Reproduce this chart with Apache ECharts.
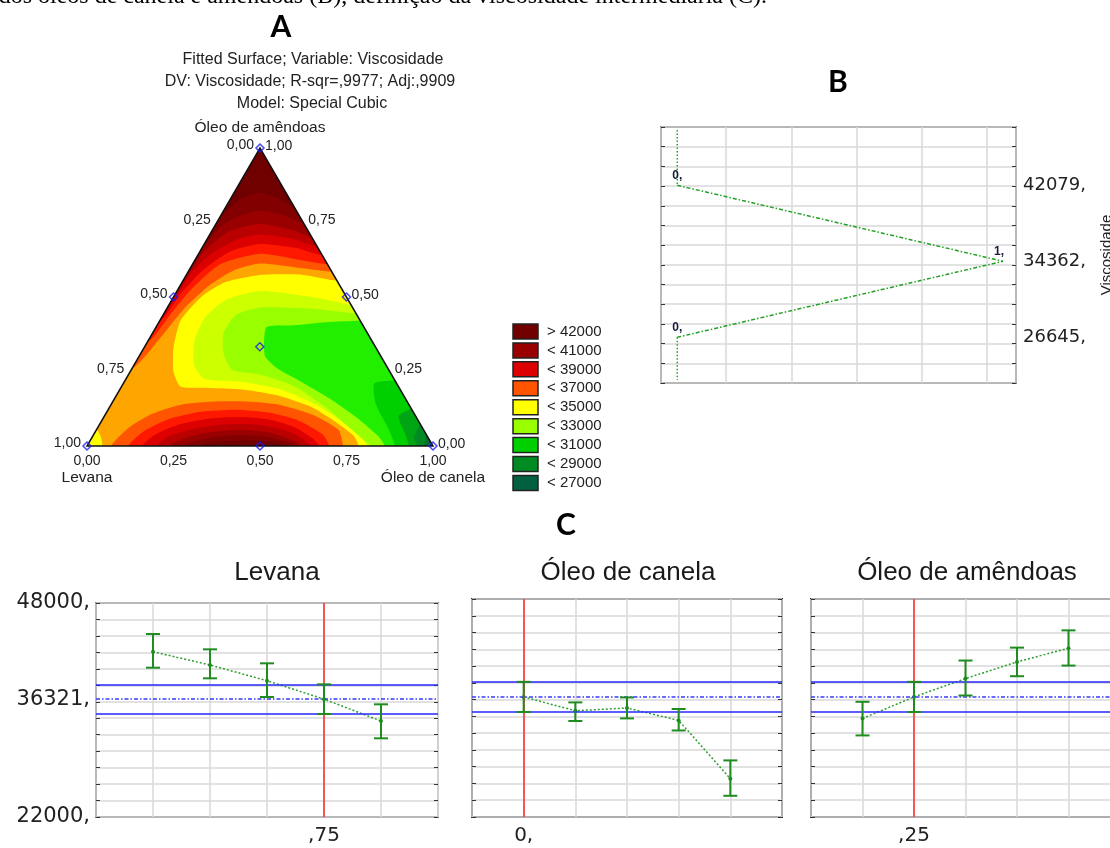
<!DOCTYPE html>
<html>
<head>
<meta charset="utf-8">
<script src="https://cdn.jsdelivr.net/npm/echarts@6/dist/echarts.min.js"></script>
<style>
  html, body { margin: 0; padding: 0; background: #fff; }
  #chart { width: 1110px; height: 848px; }
</style>
</head>
<body>
<div id="chart"></div>
<script>
// ---- A: ternary fitted surface, contour lines ----
// every point is [canela, amendoas] (levana = 1 - canela - amendoas)
const bandLows = [25000, 26000, 27000, 28000, 29000, 30000, 31000, 32000, 33000,
  34000, 35000, 36000, 37000, 38000, 39000, 40000, 41000, 42000];
const bandColors = ['#00553a', '#006040', '#007030', '#008a22', '#00a514', '#00d000',
  '#22ee00', '#99ff00', '#ccff00', '#ffff00', '#ffa500', '#ff5500', '#ff1800',
  '#dd0000', '#bb0000', '#990000', '#820000', '#700000'];

// upper region, from the levana/amendoas edge to the canela/amendoas edge
const topLevels = [36000, 37000, 38000, 39000, 40000, 41000, 42000];
const topLines = [
  [[0, 0.26], [0.03, 0.36], [0.05, 0.46], [0.085, 0.54], [0.13, 0.59], [0.194, 0.612], [0.30, 0.60], [0.415, 0.585]],
  [[0, 0.35], [0.02, 0.44], [0.04, 0.53], [0.08, 0.61], [0.1775, 0.645], [0.30, 0.625], [0.39, 0.61]],
  [[0, 0.42], [0.015, 0.51], [0.04, 0.59], [0.09, 0.655], [0.161, 0.678], [0.27, 0.665], [0.36, 0.64]],
  [[0, 0.50], [0.01, 0.58], [0.04, 0.65], [0.09, 0.695], [0.145, 0.71], [0.25, 0.695], [0.332, 0.668]],
  [[0, 0.58], [0.01, 0.65], [0.05, 0.72], [0.1275, 0.745], [0.23, 0.725], [0.30, 0.70]],
  [[0, 0.68], [0.02, 0.74], [0.06, 0.775], [0.105, 0.79], [0.18, 0.775], [0.255, 0.745]],
  [[0, 0.78], [0.03, 0.83], [0.075, 0.85], [0.13, 0.835], [0.20, 0.80]]
];
// dome on the levana/canela edge
const domeLevels = [36000, 37000, 38000, 39000, 40000, 41000, 42000];
const domeLines = [
  [[0.07, 0], [0.092, 0.065], [0.137, 0.11], [0.20, 0.138], [0.29, 0.149], [0.3875, 0.149],
    [0.489, 0.138], [0.602, 0.104], [0.70, 0.054], [0.74, 0]],
  [[0.12, 0], [0.14, 0.05], [0.19, 0.09], [0.27, 0.115], [0.37, 0.122], [0.47, 0.112], [0.57, 0.085], [0.66, 0.04], [0.70, 0]],
  [[0.16, 0], [0.18, 0.04], [0.23, 0.072], [0.31, 0.092], [0.40, 0.097], [0.49, 0.087], [0.57, 0.062], [0.64, 0.025], [0.67, 0]],
  [[0.20, 0], [0.22, 0.032], [0.28, 0.058], [0.36, 0.072], [0.44, 0.073], [0.52, 0.06], [0.59, 0.035], [0.645, 0]],
  [[0.24, 0], [0.27, 0.028], [0.34, 0.048], [0.42, 0.054], [0.50, 0.046], [0.57, 0.025], [0.62, 0]],
  [[0.28, 0], [0.32, 0.022], [0.40, 0.036], [0.48, 0.034], [0.55, 0.02], [0.60, 0]],
  [[0.33, 0], [0.38, 0.014], [0.45, 0.02], [0.52, 0.014], [0.575, 0]]
];
// low basin, from the canela/amendoas edge to the levana/canela edge
const basinLevels = [35000, 34000, 33000, 32000, 31000, 30000, 29000, 28000, 27000];
const basinLines = [
  [[0.445, 0.555], [0.3325, 0.575], [0.213, 0.574], [0.125, 0.55], [0.08, 0.50], [0.06, 0.42], [0.085, 0.33],
    [0.125, 0.25], [0.17, 0.20], [0.2525, 0.195], [0.355, 0.19], [0.465, 0.17], [0.585, 0.13], [0.68, 0.08],
    [0.7525, 0.035], [0.785, 0]],
  [[0.525, 0.475], [0.40, 0.50], [0.24, 0.52], [0.155, 0.49], [0.125, 0.43], [0.135, 0.35], [0.175, 0.27],
    [0.2275, 0.225], [0.3425, 0.215], [0.465, 0.19], [0.59, 0.14], [0.70, 0.08], [0.775, 0.03], [0.81, 0]],
  [[0.555, 0.445], [0.43, 0.46], [0.2675, 0.465], [0.21, 0.44], [0.205, 0.38], [0.24, 0.31], [0.2925, 0.255],
    [0.38, 0.24], [0.50, 0.20], [0.625, 0.13], [0.73, 0.06], [0.79, 0.02], [0.82, 0]],
  [[0.58, 0.42], [0.4825, 0.415], [0.3975, 0.405], [0.32, 0.40], [0.332, 0.36], [0.365, 0.30], [0.42, 0.26],
    [0.5125, 0.215], [0.62, 0.16], [0.7325, 0.095], [0.8225, 0.035], [0.86, 0]],
  [[0.78, 0.22], [0.725, 0.21], [0.765, 0.14], [0.84, 0.06], [0.89, 0]],
  [[0.875, 0.125], [0.85, 0.10], [0.90, 0.04], [0.93, 0]],
  [[0.93, 0.07], [0.93, 0.03], [0.955, 0]],
  [[0.965, 0.035], [0.975, 0]],
  [[0.985, 0.015], [0.99, 0]]
];
// small low patch at the levana corner
const cornerLevels = [35000];
const cornerLines = [[[0.045, 0], [0.025, 0.03], [0, 0.055]]];

const designPoints = [[0, 0], [1, 0], [0, 1], [0.5, 0], [0, 0.5], [0.5, 0.5], [0.333, 0.333]];
const ternaryTicks = [0, 0.25, 0.5, 0.75, 1];

const legendLabels = ['> 42000', '< 41000', '< 39000', '< 37000', '< 35000', '< 33000', '< 31000', '< 29000', '< 27000'];
const legendBands = [42000, 40000, 38000, 36000, 34000, 32000, 30000, 28000, 26000];

// ---- B: trace of the response ----
const bVertX = [0, 0, '-', 0, 0];
const bVertY = [47700, 42079, '-', 26645, 22300];
const bDiagX = [0, 1, 0];
const bDiagY = [42079, 34362, 26645];
const bDiagLabels = ['0,', '1,', '0,'];
const bAxisLabels = [26645, 34362, 42079];

// ---- C: prediction profiles ----
const levanaX = [0.6, 0.65, 0.7, 0.75, 0.8];
const levanaMean = [42080, 40470, 38560, 36321, 33660];
const levanaLow = [40140, 38850, 36580, 34520, 31560];
const levanaHigh = [44230, 42370, 40670, 38120, 35690];

const canelaX = [0, 0.05, 0.1, 0.15, 0.2];
const canelaMean = [36321, 34670, 35000, 33520, 26560];
const canelaLow = [34520, 33450, 33760, 32320, 24530];
const canelaHigh = [38120, 35670, 36260, 34880, 28750];

const amendoasX = [0.2, 0.25, 0.3, 0.35, 0.4];
const amendoasMean = [33750, 36321, 38510, 40500, 42130];
const amendoasLow = [31730, 34520, 36490, 38790, 40060];
const amendoasHigh = [35740, 38120, 40660, 42200, 44260];

const predValue = 36321;
const predLow = 34520;
const predHigh = 38090;
const currentX = [0.75, 0, 0.25];
const currentLabels = [',75', '0,', ',25'];
const profileYLabels = [22000, 36321, 48000];

// ------------------------------------------------------------------
const sansFont = "'Liberation Sans', Arial, sans-serif";
const numFont = "'DejaVu Sans', sans-serif";
const colorOf = low => bandColors[bandLows.indexOf(low)];
const toPlane = p => [p[0] + p[1] / 2, p[1]];

// superlevel / sublevel polygons, painted from the outside in
const shapes = [];
shapes.push({ pts: [[0, 0], [1, 0], [0.5, 1]], fill: colorOf(35000), smooth: 0 });
basinLevels.forEach((lv, i) => {
  const pts = basinLines[i].map(toPlane);
  const a = pts[0], b = pts[pts.length - 1];
  pts.push([b[0], -0.08], [1.15, -0.08], [a[0] + 0.15, a[1]]);
  shapes.push({ pts, fill: colorOf(lv - 1000), smooth: 0.2 });
});
cornerLevels.forEach((lv, i) => {
  const pts = cornerLines[i].map(toPlane);
  const a = pts[0], b = pts[pts.length - 1];
  pts.push([b[0] - 0.15, b[1]], [-0.15, -0.08], [a[0], -0.08]);
  shapes.push({ pts, fill: colorOf(lv - 1000), smooth: 0.2 });
});
topLevels.forEach((lv, i) => {
  const pts = topLines[i].map(toPlane);
  const a = pts[0], b = pts[pts.length - 1];
  pts.push([b[0] + 0.15, b[1]], [0.62, 1.08], [0.38, 1.08], [a[0] - 0.15, a[1]]);
  shapes.push({ pts, fill: colorOf(lv), smooth: 0.2 });
});
domeLevels.forEach((lv, i) => {
  const pts = domeLines[i].map(toPlane);
  const a = pts[0], b = pts[pts.length - 1];
  pts.push([b[0], -0.08], [a[0], -0.08]);
  shapes.push({ pts, fill: colorOf(lv), smooth: 0.2 });
});
// white masks outside the triangle
shapes.push({ pts: [[0, 0], [0.5, 1], [0.5, 1.12], [-0.2, 1.12], [-0.2, 0]], fill: '#fff', smooth: 0 });
shapes.push({ pts: [[1, 0], [0.5, 1], [0.5, 1.12], [1.2, 1.12], [1.2, 0]], fill: '#fff', smooth: 0 });
shapes.push({ pts: [[-0.2, 0], [1.2, 0], [1.2, -0.12], [-0.2, -0.12]], fill: '#fff', smooth: 0 });
shapes.push({ pts: [[0, 0], [1, 0], [0.5, 1]], fill: null, stroke: '#111', smooth: 0 });

const fmtTick = v => v.toFixed(2).replace('.', ',');
const ternaryTexts = [];
ternaryTicks.forEach(t => {
  ternaryTexts.push({ p: [t, 0], text: fmtTick(t), dx: 0, dy: 15, align: 'center', size: 14 });
  ternaryTexts.push({ p: [0, 1 - t], text: fmtTick(t), dx: -6, dy: -2.5, align: 'right', size: 14 });
  ternaryTexts.push({ p: [1 - t, t], text: fmtTick(t), dx: 5, dy: -2, align: 'left', size: 14 });
});
ternaryTexts.push({ p: [0, 0], text: 'Levana', dx: 0, dy: 32, align: 'center', size: 15.5 });
ternaryTexts.push({ p: [1, 0], text: 'Óleo de canela', dx: 0, dy: 32, align: 'center', size: 15.5 });
ternaryTexts.push({ p: [0, 1], text: 'Óleo de amêndoas', dx: 0, dy: -20, align: 'center', size: 15.5 });

const gridLine = { show: true, lineStyle: { color: '#d8d8d8', width: 1.5 } };
const noLine = { show: false, onZero: false };
const innerTick = { show: true, inside: true, length: 4, lineStyle: { color: '#333' } };

const grids = [
  { left: 87, top: 148, width: 346, height: 298 },
  { left: 661, top: 127, width: 355, height: 256, show: true, borderColor: '#222', borderWidth: 1.5 },
  { left: 96, top: 603, width: 342, height: 214, show: true, borderColor: '#222', borderWidth: 1.5 },
  { left: 472, top: 599, width: 310, height: 218, show: true, borderColor: '#333', borderWidth: 2 },
  { left: 811, top: 599, width: 309, height: 218, show: true, borderColor: '#333', borderWidth: 2 }
].map(g => Object.assign({ outerBoundsMode: 'none', containLabel: false }, g));

const xAxes = [
  { gridIndex: 0, type: 'value', min: 0, max: 1, show: false },
  { gridIndex: 1, type: 'value', min: -0.05, max: 1.04, interval: 0.2,
    axisLine: noLine, axisTick: { show: false }, axisLabel: { show: false }, splitLine: gridLine }
];
const yAxes = [
  { gridIndex: 0, type: 'value', min: 0, max: 1, show: false },
  { gridIndex: 1, type: 'value', position: 'right', min: 22000, max: 48000, interval: 2000,
    name: 'Viscosidade', nameLocation: 'middle', nameGap: 83, nameRotate: 90,
    nameTextStyle: { fontFamily: sansFont, fontSize: 15, color: '#222' },
    axisLine: noLine, axisTick: innerTick,
    axisLabel: { customValues: bAxisLabels, formatter: v => (bAxisLabels.includes(v) ? v + ',' : ''),
      margin: 7, fontFamily: numFont, fontSize: 18, color: '#222' },
    splitLine: gridLine },
  { gridIndex: 1, type: 'value', position: 'left', min: 22000, max: 48000, interval: 2000,
    axisLine: noLine, axisTick: innerTick, axisLabel: { show: false }, splitLine: { show: false } }
];

const series = [
  {
    type: 'custom', xAxisIndex: 0, yAxisIndex: 0, silent: true, z: 2,
    data: shapes.map((s, i) => [0.5, 0.5, i]),
    renderItem: (params, api) => {
      const s = shapes[params.dataIndex];
      return {
        type: 'polygon',
        shape: { points: s.pts.map(p => api.coord(p)), smooth: s.smooth },
        style: s.fill ? { fill: s.fill } : { fill: null, stroke: s.stroke, lineWidth: 1.5 }
      };
    }
  },
  {
    type: 'scatter', xAxisIndex: 0, yAxisIndex: 0, silent: true, z: 3,
    data: designPoints.map(toPlane),
    symbol: 'diamond', symbolSize: 8,
    itemStyle: { color: 'rgba(0,0,0,0)', borderColor: '#1c1cf0', borderWidth: 1.5 }
  },
  {
    type: 'custom', xAxisIndex: 0, yAxisIndex: 0, silent: true, z: 4,
    data: ternaryTexts.map((t, i) => [0.5, 0.5, i]),
    renderItem: (params, api) => {
      const t = ternaryTexts[params.dataIndex];
      const c = api.coord(toPlane(t.p));
      return {
        type: 'text', x: c[0] + t.dx, y: c[1] + t.dy,
        style: { text: t.text, fill: '#222', fontFamily: sansFont, fontSize: t.size,
          align: t.align, verticalAlign: 'middle' }
      };
    }
  },
  {
    type: 'line', xAxisIndex: 1, yAxisIndex: 1, silent: true, symbol: 'none',
    data: bVertX.map((x, i) => [x, bVertY[i]]),
    lineStyle: { color: '#23a023', width: 1.5, type: [1.5, 2] }
  },
  {
    type: 'line', xAxisIndex: 1, yAxisIndex: 1, silent: true,
    symbol: 'circle', symbolSize: 1, showSymbol: true,
    itemStyle: { color: 'rgba(0,0,0,0)' },
    data: bDiagX.map((x, i) => ({
      value: [x, bDiagY[i]],
      label: { show: true, formatter: bDiagLabels[i], position: 'top', offset: [i === 1 ? -4 : 0, 2],
        fontFamily: sansFont, fontSize: 12, fontWeight: 'bold', color: '#1a1a40' }
    })),
    lineStyle: { color: '#23a023', width: 1.5, type: [4, 2, 1.5, 2] }
  }
];

function addProfile(gi, xs, means, lows, highs, xmin, cur, curLabel, showY) {
  const xi = xAxes.length;
  const yi = yAxes.length;
  xAxes.push({
    gridIndex: gi, type: 'value', min: xmin, max: xmin + 0.3, interval: 0.05,
    axisLine: noLine, axisTick: { show: false },
    axisLabel: { customValues: [cur], formatter: v => (Math.abs(v - cur) < 1e-9 ? curLabel : ''),
      margin: 9, fontFamily: numFont, fontSize: 20, color: '#222' },
    splitLine: gridLine
  });
  yAxes.push({
    gridIndex: gi, type: 'value', min: 22000, max: 48000, interval: 2000,
    axisLine: noLine, axisTick: innerTick,
    axisLabel: showY
      ? { customValues: profileYLabels, formatter: v => (profileYLabels.includes(v) ? v + ',' : ''),
          margin: 6, fontFamily: numFont, fontSize: 21, color: '#222' }
      : { show: false },
    splitLine: gridLine
  });
  yAxes.push({
    gridIndex: gi, type: 'value', position: 'right', min: 22000, max: 48000, interval: 2000,
    axisLine: noLine, axisTick: innerTick, axisLabel: { show: false }, splitLine: { show: false }
  });
  series.push({
    type: 'line', xAxisIndex: xi, yAxisIndex: yi, silent: true, z: 4,
    data: xs.map((x, i) => [x, means[i]]),
    symbol: 'circle', symbolSize: 4,
    itemStyle: { color: '#1e8c1e' },
    lineStyle: { color: '#2e9e2e', width: 1.5, type: [2, 2] },
    markLine: {
      silent: true, symbol: ['none', 'none'], label: { show: false },
      data: [
        { yAxis: predHigh, lineStyle: { color: '#2626ff', width: 1.5, type: 'solid' } },
        { yAxis: predLow, lineStyle: { color: '#2626ff', width: 1.5, type: 'solid' } },
        { yAxis: predValue, lineStyle: { color: '#3a3aff', width: 1.5, type: [4, 2, 1.5, 2] } },
        { xAxis: cur, lineStyle: { color: '#ff2626', width: 1.5, type: 'solid' } }
      ]
    }
  });
  series.push({
    type: 'custom', xAxisIndex: xi, yAxisIndex: yi, silent: true, z: 5,
    data: xs.map((x, i) => [x, lows[i], highs[i]]),
    encode: { x: 0, y: [1, 2] },
    renderItem: (params, api) => {
      const lo = api.coord([api.value(0), api.value(1)]);
      const hi = api.coord([api.value(0), api.value(2)]);
      const hw = 7;
      const st = { stroke: '#1e8c1e', lineWidth: 2 };
      return {
        type: 'group',
        children: [
          { type: 'line', shape: { x1: lo[0], y1: lo[1], x2: hi[0], y2: hi[1] }, style: st },
          { type: 'line', shape: { x1: lo[0] - hw, y1: lo[1], x2: lo[0] + hw, y2: lo[1] }, style: st },
          { type: 'line', shape: { x1: hi[0] - hw, y1: hi[1], x2: hi[0] + hw, y2: hi[1] }, style: st }
        ]
      };
    }
  });
}
addProfile(2, levanaX, levanaMean, levanaLow, levanaHigh, 0.55, currentX[0], currentLabels[0], true);
addProfile(3, canelaX, canelaMean, canelaLow, canelaHigh, -0.05, currentX[1], currentLabels[1], false);
addProfile(4, amendoasX, amendoasMean, amendoasLow, amendoasHigh, 0.15, currentX[2], currentLabels[2], false);

const txt = (x, y, text, size, opts) => ({
  type: 'text', x, y, z: 10,
  style: Object.assign({ text, fill: '#222', fontFamily: sansFont, fontSize: size,
    align: 'center', verticalAlign: 'middle' }, opts || {})
});

const graphics = [
  txt(767, -3, 'dos óleos de canela e amêndoas (B), definição da viscosidade intermediária (C).', 24,
    { fontFamily: "'Liberation Serif', serif", align: 'right', fill: '#000' }),
  txt(281, 27, 'A', 30, { fontFamily: "Lato, sans-serif", fontWeight: 'bold', fill: '#000' }),
  txt(838, 82, 'B', 30, { fontFamily: "Lato, sans-serif", fontWeight: 'bold', fill: '#000' }),
  txt(566, 525, 'C', 30, { fontFamily: "Lato, sans-serif", fontWeight: 'bold', fill: '#000' }),
  txt(313, 60, 'Fitted Surface; Variable: Viscosidade', 16),
  txt(310, 82, 'DV: Viscosidade; R-sqr=,9977; Adj:,9909', 16),
  txt(312, 104, 'Model: Special Cubic', 16),
  txt(277, 573, 'Levana', 26, { fill: '#1a1a1a' }),
  txt(628, 573, 'Óleo de canela', 26, { fill: '#1a1a1a' }),
  txt(967, 573, 'Óleo de amêndoas', 26, { fill: '#1a1a1a' })
];
legendLabels.forEach((lab, i) => {
  const y = 324 + i * 18.93;
  graphics.push({ type: 'rect', z: 10, shape: { x: 513, y, width: 25, height: 15 },
    style: { fill: colorOf(legendBands[i]), stroke: '#222', lineWidth: 1.5 } });
  graphics.push(txt(547, y + 7.5, lab, 15, { align: 'left' }));
});

const chart = echarts.init(document.getElementById('chart'));
chart.setOption({
  animation: false,
  backgroundColor: '#fff',
  grid: grids,
  xAxis: xAxes,
  yAxis: yAxes,
  series,
  graphic: graphics
});
</script>
</body>
</html>
